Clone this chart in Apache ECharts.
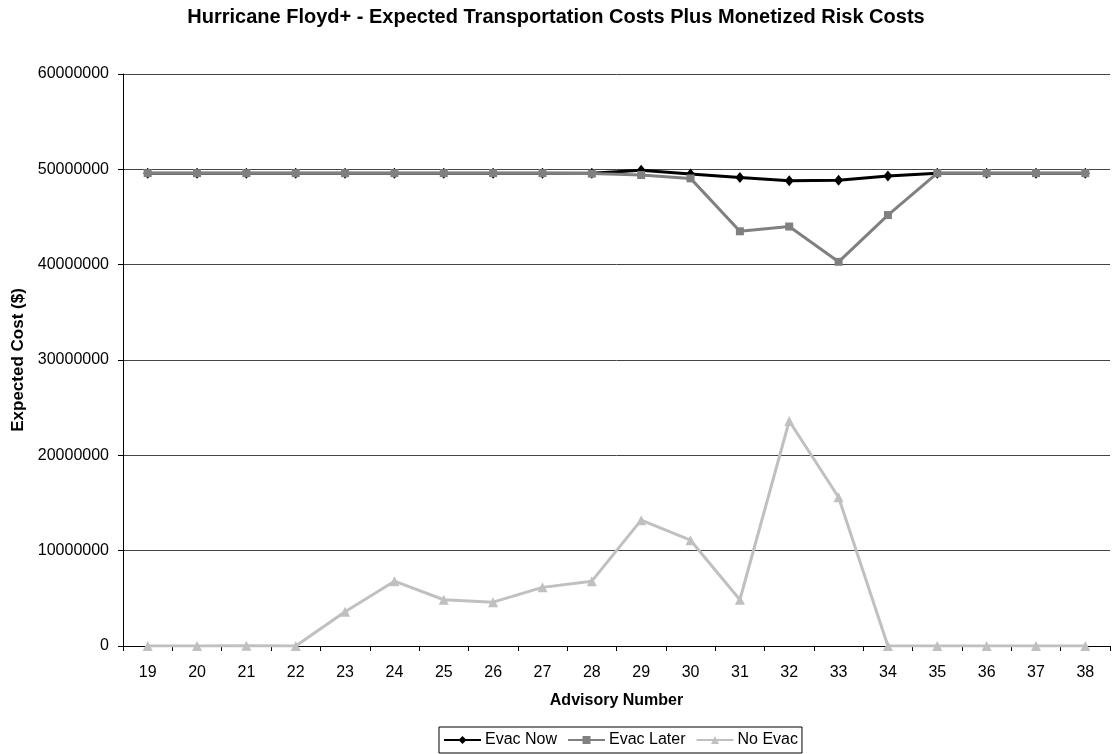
<!DOCTYPE html>
<html>
<head>
<meta charset="utf-8">
<script src="https://cdn.jsdelivr.net/npm/echarts@6/dist/echarts.min.js"></script>
<style>
  html, body { margin: 0; padding: 0; background: #fff; }
  #chart { width: 1112px; height: 754px; }
</style>
</head>
<body>
<div id="chart"></div>
<script>
// Advisory numbers along the x axis
const advisories = ['19','20','21','22','23','24','25','26','27','28','29','30','31','32','33','34','35','36','37','38'];

// Expected cost per advisory ($)
const evacNow = [49600000,49600000,49600000,49600000,49600000,49600000,49600000,49600000,49600000,49600000,
                 49900000,49500000,49150000,48800000,48850000,49300000,49600000,49600000,49600000,49600000];
const evacLater = [49600000,49600000,49600000,49600000,49600000,49600000,49600000,49600000,49600000,49550000,
                   49400000,49050000,43500000,44000000,40300000,45200000,49600000,49600000,49600000,49600000];
const noEvac = [0,0,30000,0,3600000,6800000,4850000,4600000,6150000,6800000,
                13200000,11100000,4850000,23600000,15600000,0,0,0,0,0];

const font = 'Liberation Sans, Arial, sans-serif';

const chart = echarts.init(document.getElementById('chart'));
chart.setOption({
  animation: false,
  backgroundColor: '#ffffff',
  title: {
    text: 'Hurricane Floyd+ - Expected Transportation Costs Plus Monetized Risk Costs',
    left: 'center',
    top: 2,
    textStyle: { fontFamily: font, fontSize: 20, fontWeight: 'bold', color: '#000' }
  },
  legend: {
    top: 727,
    left: 439,
    orient: 'horizontal',
    borderColor: '#000',
    borderWidth: 1,
    borderRadius: 0,
    padding: [5, 4, 5, 4],
    itemGap: 10,
    itemWidth: 37,
    itemHeight: 10,
    textStyle: { fontFamily: font, fontSize: 16, color: '#000', padding: [0, 0, 0, -1] },
    data: ['Evac Now', 'Evac Later', 'No Evac']
  },
  grid: { left: 123, right: 2, top: 74, bottom: 108, containLabel: false },
  xAxis: {
    type: 'category',
    data: advisories,
    boundaryGap: true,
    name: 'Advisory Number',
    nameLocation: 'middle',
    nameGap: 47,
    nameTextStyle: { fontFamily: font, fontSize: 16, fontWeight: 'bold', color: '#000' },
    axisLine: { lineStyle: { color: '#000', width: 1 } },
    axisTick: { show: true, alignWithLabel: false, length: 5, lineStyle: { color: '#000' } },
    axisLabel: { fontFamily: font, fontSize: 16, color: '#000', margin: 19 },
    splitLine: { show: false }
  },
  yAxis: {
    type: 'value',
    min: 0,
    max: 60000000,
    interval: 10000000,
    name: 'Expected Cost ($)',
    nameLocation: 'middle',
    nameGap: 92,
    nameRotate: 90,
    nameTextStyle: { fontFamily: font, fontSize: 17, fontWeight: 'bold', color: '#000' },
    axisLine: { show: true, lineStyle: { color: '#000', width: 1 } },
    axisTick: { show: true, length: 5, lineStyle: { color: '#000' } },
    axisLabel: {
      fontFamily: font, fontSize: 16, color: '#000', margin: 14,
      formatter: (v) => String(v)
    },
    splitLine: { show: true, lineStyle: { color: '#444', width: 1 } }
  },
  series: [
    {
      name: 'No Evac',
      type: 'line',
      data: noEvac,
      z: 2,
      color: '#c0c0c0',
      lineStyle: { width: 3, color: '#c0c0c0' },
      symbol: 'triangle',
      symbolSize: 10,
      itemStyle: { color: '#c0c0c0' }
    },
    {
      name: 'Evac Now',
      type: 'line',
      data: evacNow,
      z: 3,
      color: '#000000',
      lineStyle: { width: 3, color: '#000000' },
      symbol: 'diamond',
      symbolSize: [9, 11],
      itemStyle: { color: '#000000' }
    },
    {
      name: 'Evac Later',
      type: 'line',
      data: evacLater,
      z: 4,
      color: '#808080',
      lineStyle: { width: 3, color: '#808080' },
      symbol: 'rect',
      symbolSize: 8,
      itemStyle: { color: '#808080' }
    }
  ]
});
</script>
</body>
</html>
